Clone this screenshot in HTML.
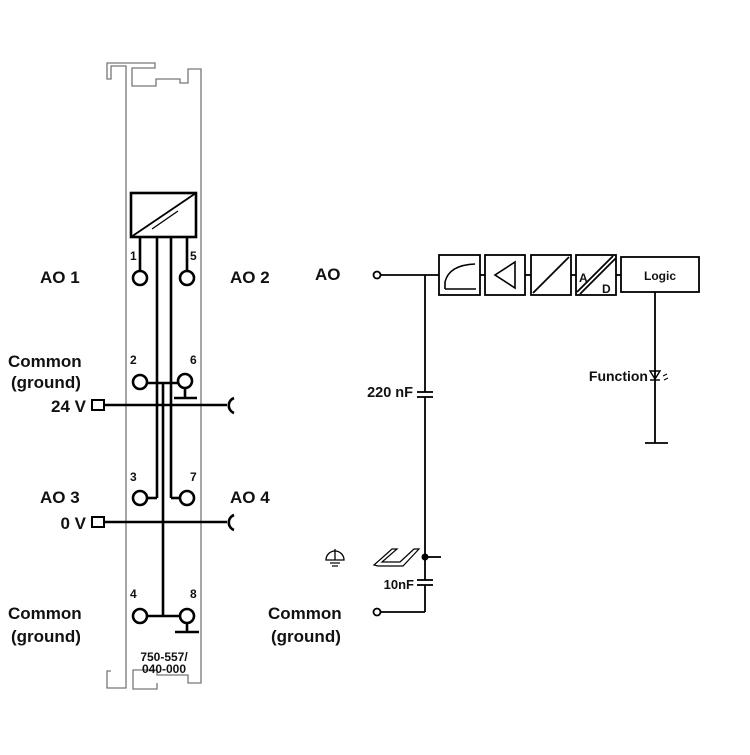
<!DOCTYPE html>
<html><head><meta charset="utf-8"><style>
html,body{margin:0;padding:0;background:#fff;}
svg text{font-family:"Liberation Sans",sans-serif;font-weight:bold;fill:#111;}
</style></head><body>
<svg width="750" height="750" viewBox="0 0 750 750" xmlns="http://www.w3.org/2000/svg">
<g fill="none" stroke="#777" stroke-width="1.3">
<path d="M126,683 L126,66 L111,66 L111,79 L107,79 L107,63 L155,63 L155,68 L132,68 L132,86 L156,86 L156,79 L180,79 L180,83 L188,83 L188,69 L201,69 L201,683 L188,683 L188,675 L157,675 L157,670 L133,670 L133,689 L157,689 L157,683"/>
<path d="M126,683 L126,688 L107,688 L107,671 L111,671"/>
</g>
<g fill="none" stroke="#000" stroke-width="2.6">
<rect x="131" y="193" width="65" height="44"/>
<line x1="131" y1="237" x2="196" y2="193" stroke-width="1.8"/>
<line x1="152" y1="229" x2="178" y2="211" stroke-width="1.3"/>
<line x1="140" y1="237" x2="140" y2="271"/>
<line x1="187" y1="237" x2="187" y2="271"/>
<circle cx="140" cy="278" r="7"/>
<circle cx="187" cy="278" r="7"/>
<line x1="157" y1="237" x2="157" y2="498"/>
<line x1="171" y1="237" x2="171" y2="498"/>
<line x1="163" y1="383" x2="163" y2="616"/>
<circle cx="140" cy="382" r="7"/>
<circle cx="185" cy="381" r="7"/>
<line x1="147" y1="383" x2="178" y2="383"/>
<line x1="185" y1="388" x2="185" y2="398"/>
<line x1="174" y1="398" x2="197" y2="398"/>
<line x1="104" y1="405" x2="227" y2="405"/>
<rect x="92" y="400" width="12" height="10" stroke-width="2"/>
<path d="M234,398 A8,8 0 0 0 234,413"/>
<circle cx="140" cy="498" r="7"/>
<circle cx="187" cy="498" r="7"/>
<line x1="147" y1="498" x2="157" y2="498"/>
<line x1="171" y1="498" x2="180" y2="498"/>
<line x1="104" y1="522" x2="227" y2="522"/>
<rect x="92" y="517" width="12" height="10" stroke-width="2"/>
<path d="M234,515 A8,8 0 0 0 234,530"/>
<circle cx="140" cy="616" r="7"/>
<circle cx="187" cy="616" r="7"/>
<line x1="147" y1="616" x2="180" y2="616"/>
<line x1="187" y1="623" x2="187" y2="632"/>
<line x1="175" y1="632" x2="199" y2="632"/>
</g>
<g font-size="12">
<text x="130" y="260">1</text><text x="190" y="260">5</text>
<text x="130" y="364">2</text><text x="190" y="364">6</text>
<text x="130" y="481">3</text><text x="190" y="481">7</text>
<text x="130" y="598">4</text><text x="190" y="598">8</text>
<text x="164" y="661" text-anchor="middle" font-size="12">750-557/</text>
<text x="164" y="673" text-anchor="middle" font-size="12">040-000</text>
</g>
<g font-size="17">
<text x="40" y="283">AO 1</text>
<text x="230" y="283">AO 2</text>
<text x="8" y="367">Common</text>
<text x="11" y="388">(ground)</text>
<text x="86" y="412" text-anchor="end">24 V</text>
<text x="40" y="503">AO 3</text>
<text x="230" y="503">AO 4</text>
<text x="86" y="529" text-anchor="end">0 V</text>
<text x="8" y="619">Common</text>
<text x="11" y="642">(ground)</text>
<text x="268" y="619">Common</text>
<text x="271" y="642">(ground)</text>
<text x="315" y="280">AO</text>
</g>
<g fill="none" stroke="#000" stroke-width="1.8">
<circle cx="377" cy="275" r="3.5"/>
<line x1="381" y1="275" x2="439" y2="275"/>
<line x1="425" y1="275" x2="425" y2="392"/>
<line x1="417" y1="392" x2="433" y2="392"/>
<line x1="417" y1="397" x2="433" y2="397"/>
<line x1="425" y1="397" x2="425" y2="580"/>
<line x1="417" y1="580" x2="433" y2="580"/>
<line x1="417" y1="585" x2="433" y2="585"/>
<line x1="425" y1="585" x2="425" y2="612"/>
<line x1="425" y1="612" x2="381" y2="612"/>
<circle cx="377" cy="612" r="3.5"/>
<line x1="425" y1="557" x2="441" y2="557"/>
<rect x="439" y="255" width="41" height="40"/>
<path d="M445,289 L445,282 Q449,265 475,264" stroke-width="1.6"/>
<line x1="445" y1="289" x2="476" y2="289" stroke-width="1.6"/>
<line x1="480" y1="275" x2="485" y2="275"/>
<rect x="485" y="255" width="40" height="40"/>
<path d="M515,262 L515,288 L495,275 Z" stroke-width="1.6"/>
<line x1="525" y1="275" x2="531" y2="275"/>
<rect x="531" y="255" width="40" height="40"/>
<line x1="533" y1="293" x2="569" y2="257"/>
<line x1="571" y1="275" x2="576" y2="275"/>
<rect x="576" y="255" width="40" height="40"/>
<line x1="577" y1="292" x2="613" y2="256"/>
<line x1="580" y1="294" x2="616" y2="258"/>
<line x1="616" y1="275" x2="621" y2="275"/>
<rect x="621" y="257" width="78" height="35"/>
<line x1="655" y1="292" x2="655" y2="443"/>
<line x1="645" y1="443" x2="668" y2="443"/>
<path d="M650,371 L660,371 L655,379 Z" stroke-width="1.4"/>
<line x1="650" y1="380" x2="660" y2="380" stroke-width="1.4"/>
<path d="M663,376 l4,-2 M664,380 l4,-2" stroke-width="1"/>
<path d="M326,560 A9,9 0 0 1 344,560 Z" stroke-width="1.3"/>
<line x1="335" y1="549" x2="335" y2="560" stroke-width="1.3"/>
<line x1="330" y1="563" x2="340" y2="563" stroke-width="1.2"/>
<line x1="332" y1="566" x2="338" y2="566" stroke-width="1.2"/>
<path d="M374,565 L392,549 L397,549 L382,562 L400,562 L414,549 L419,549 L403,566 L385,566 L378,566 Z" stroke-width="1.2"/>
</g>
<circle cx="425" cy="557" r="3.5" fill="#000"/>
<text x="579" y="282" font-size="12">A</text>
<text x="602" y="293" font-size="12">D</text>
<text x="660" y="280" font-size="12" text-anchor="middle">Logic</text>
<text x="648" y="381" font-size="14" text-anchor="end">Function</text>
<text x="413" y="397" font-size="14.5" text-anchor="end">220 nF</text>
<text x="414" y="589" font-size="13" text-anchor="end">10nF</text>
</svg>
</body></html>
